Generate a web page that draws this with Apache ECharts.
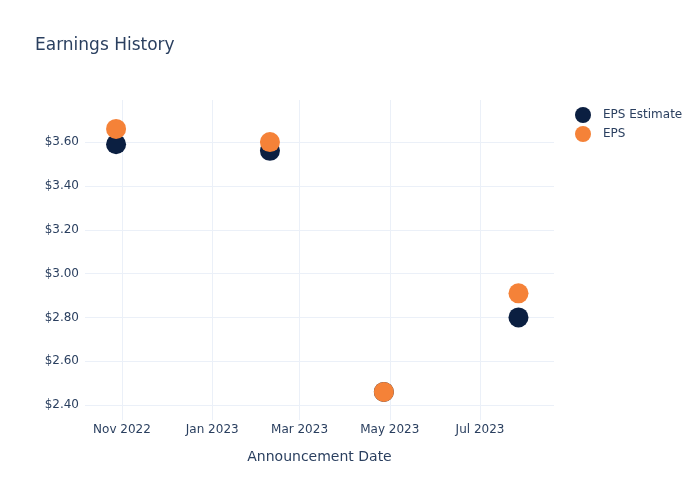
<!DOCTYPE html>
<html><head><meta charset="utf-8">
<script src="https://cdn.jsdelivr.net/npm/echarts@6/dist/echarts.min.js"></script>
<style>html,body{margin:0;padding:0;background:#fff}#c{width:700px;height:500px}</style>
</head><body><div id="c"></div>
<script>
const dates = ['2022-10-28', '2023-02-09', '2023-04-27', '2023-07-27'];
const epsEstimate = [3.59, 3.56, 2.46, 2.80];
const eps = [3.66, 3.60, 2.46, 2.91];
const xTickDates = ['2022-11-01', '2023-01-01', '2023-03-01', '2023-05-01', '2023-07-01'];
const xTickLabels = ['Nov 2022', 'Jan 2023', 'Mar 2023', 'May 2023', 'Jul 2023'];
const yTicks = [2.4, 2.6, 2.8, 3.0, 3.2, 3.4, 3.6];

const ts = s => new Date(s + 'T00:00:00Z').getTime();
const xTickTs = xTickDates.map(ts);
const txt = '#2a3f5f';
const grid = '#ebf0f8';
const chart = echarts.init(document.getElementById('c'));
chart.setOption({
  animation: false,
  title: {text: 'Earnings History', left: 30, top: 32, textStyle: {fontFamily: 'DejaVu Sans', fontSize: 17, fontWeight: 'normal', color: txt}},
  legend: {
    orient: 'vertical', left: 570, top: 102, itemWidth: 16, itemHeight: 16, itemGap: 3,
    textStyle: {fontFamily: 'DejaVu Sans', fontSize: 12, color: txt, padding: [0, 0, 0, 7]},
    data: [{name: 'EPS Estimate', icon: 'circle'}, {name: 'EPS', icon: 'circle'}]
  },
  grid: {left: 85, right: 146, top: 100, bottom: 80},
  xAxis: {
    type: 'value', min: ts('2022-10-07'), max: ts('2023-08-20'),
    name: 'Announcement Date', nameLocation: 'middle', nameGap: 30,
    nameTextStyle: {fontFamily: 'DejaVu Sans', fontSize: 14, color: txt},
    axisLine: {show: false}, axisTick: {show: false, customValues: xTickTs},
    axisLabel: {customValues: xTickTs, fontFamily: 'DejaVu Sans', fontSize: 12, color: txt, margin: 4,
      formatter: v => { const i = xTickTs.indexOf(v); return i >= 0 ? xTickLabels[i] : ''; }},
    splitLine: {show: true, lineStyle: {color: grid, width: 1}}
  },
  yAxis: {
    type: 'value', min: 2.332, max: 3.792,
    axisLine: {show: false}, axisTick: {show: false, customValues: yTicks},
    axisLabel: {customValues: yTicks, fontFamily: 'DejaVu Sans', fontSize: 12, color: txt, margin: 6,
      formatter: v => '$' + v.toFixed(2)},
    splitLine: {show: true, lineStyle: {color: grid, width: 1}}
  },
  series: [
    {name: 'EPS Estimate', type: 'scatter', symbolSize: 20, itemStyle: {color: '#0b1f41', opacity: 1},
      data: dates.map((d, i) => [ts(d), epsEstimate[i]])},
    {name: 'EPS', type: 'scatter', symbolSize: 20, itemStyle: {color: '#f58238', opacity: 1},
      data: dates.map((d, i) => [ts(d), eps[i]])}
  ]
});
</script></body></html>
